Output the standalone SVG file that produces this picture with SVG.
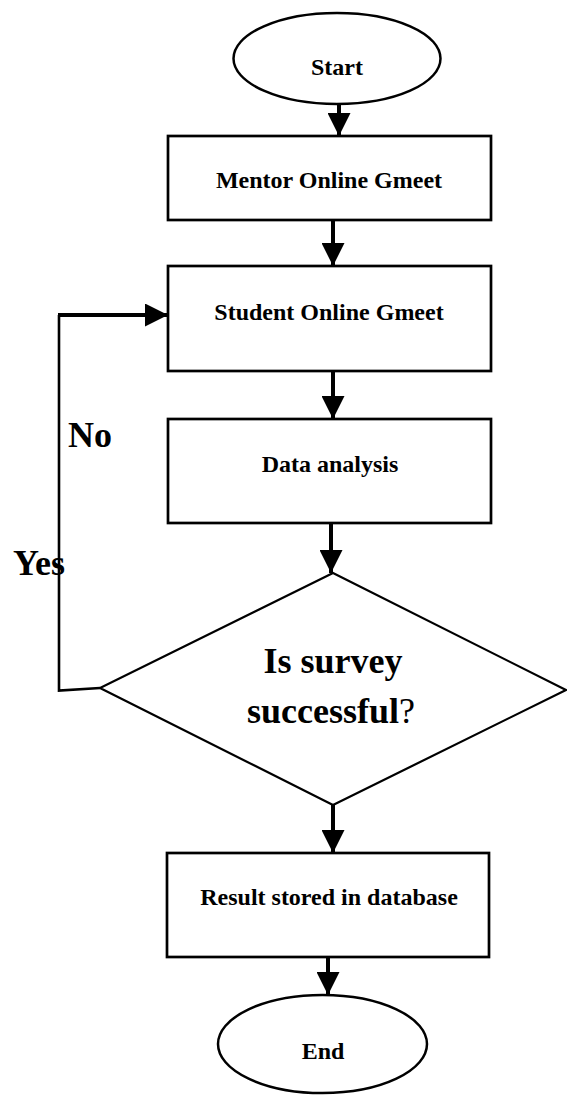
<svg xmlns="http://www.w3.org/2000/svg" width="567" height="1095" viewBox="0 0 567 1095">
  <style>
    .shape { fill: #ffffff; stroke: #000000; }
    .box { stroke-width: 2.7; }
    .term { stroke-width: 2.5; }
    .dec { stroke-width: 2.2; }
    .lbl { font-family: "Liberation Serif", "Times New Roman", serif; font-weight: bold; fill: #000000; text-anchor: middle; font-size: 24px; }
    .big { font-size: 36px; }
    .side { text-anchor: start; }
    .conn { fill: none; stroke: #000000; stroke-width: 4; }
    .loop { fill: none; stroke: #000000; stroke-width: 2.6; }
  </style>
  <defs>
    <marker id="arrow" markerUnits="userSpaceOnUse" markerWidth="23" markerHeight="23" refX="22" refY="11" orient="auto" viewBox="0 0 22 22">
      <path d="M0,0 L22,11 L0,22 Z" fill="#000000"/>
    </marker>
  </defs>

  <g id="connectors">
    <line class="conn" x1="339" y1="104" x2="339" y2="136" marker-end="url(#arrow)"/>
    <line class="conn" x1="333" y1="220" x2="333" y2="266" marker-end="url(#arrow)"/>
    <line class="conn" x1="333" y1="371" x2="333" y2="419" marker-end="url(#arrow)"/>
    <line class="conn" x1="331" y1="523" x2="331" y2="573" marker-end="url(#arrow)"/>
    <line class="conn" x1="333" y1="805" x2="333" y2="853" marker-end="url(#arrow)"/>
    <line class="conn" x1="328" y1="957" x2="328" y2="995" marker-end="url(#arrow)"/>
    <path class="loop" d="M100,688 L59,690.5 L59,315"/>
    <line class="conn" x1="58" y1="315" x2="168" y2="315" stroke-width="3.2" marker-end="url(#arrow)"/>
    <text class="lbl big side" x="68" y="447">No</text>
    <text class="lbl big side" x="13" y="575" font-size="34">Yes</text>
  </g>

  <g id="start">
    <ellipse class="shape term" cx="337" cy="58.5" rx="103.5" ry="45.5"/>
    <text class="lbl" x="337" y="75">Start</text>
  </g>

  <g id="mentor">
    <rect class="shape box" x="168" y="136" width="323" height="84"/>
    <text class="lbl" x="329" y="188">Mentor Online Gmeet</text>
  </g>

  <g id="student">
    <rect class="shape box" x="168" y="266" width="323" height="105"/>
    <text class="lbl" x="329" y="320">Student Online Gmeet</text>
  </g>

  <g id="analysis">
    <rect class="shape box" x="168" y="419" width="323" height="104"/>
    <text class="lbl" x="330" y="472">Data analysis</text>
  </g>

  <g id="decision">
    <polygon class="shape dec" points="333,573 566,690 333,805 100,688"/>
    <text class="lbl big" x="333" y="673">Is survey</text>
    <text class="lbl big" x="331" y="723">successful<tspan font-weight="normal">?</tspan></text>
  </g>

  <g id="result">
    <rect class="shape box" x="167" y="853" width="322" height="104"/>
    <text class="lbl" x="329" y="905">Result stored in database</text>
  </g>

  <g id="end">
    <ellipse class="shape term" cx="322.5" cy="1044" rx="104.5" ry="49"/>
    <text class="lbl" x="323" y="1059">End</text>
  </g>
</svg>
